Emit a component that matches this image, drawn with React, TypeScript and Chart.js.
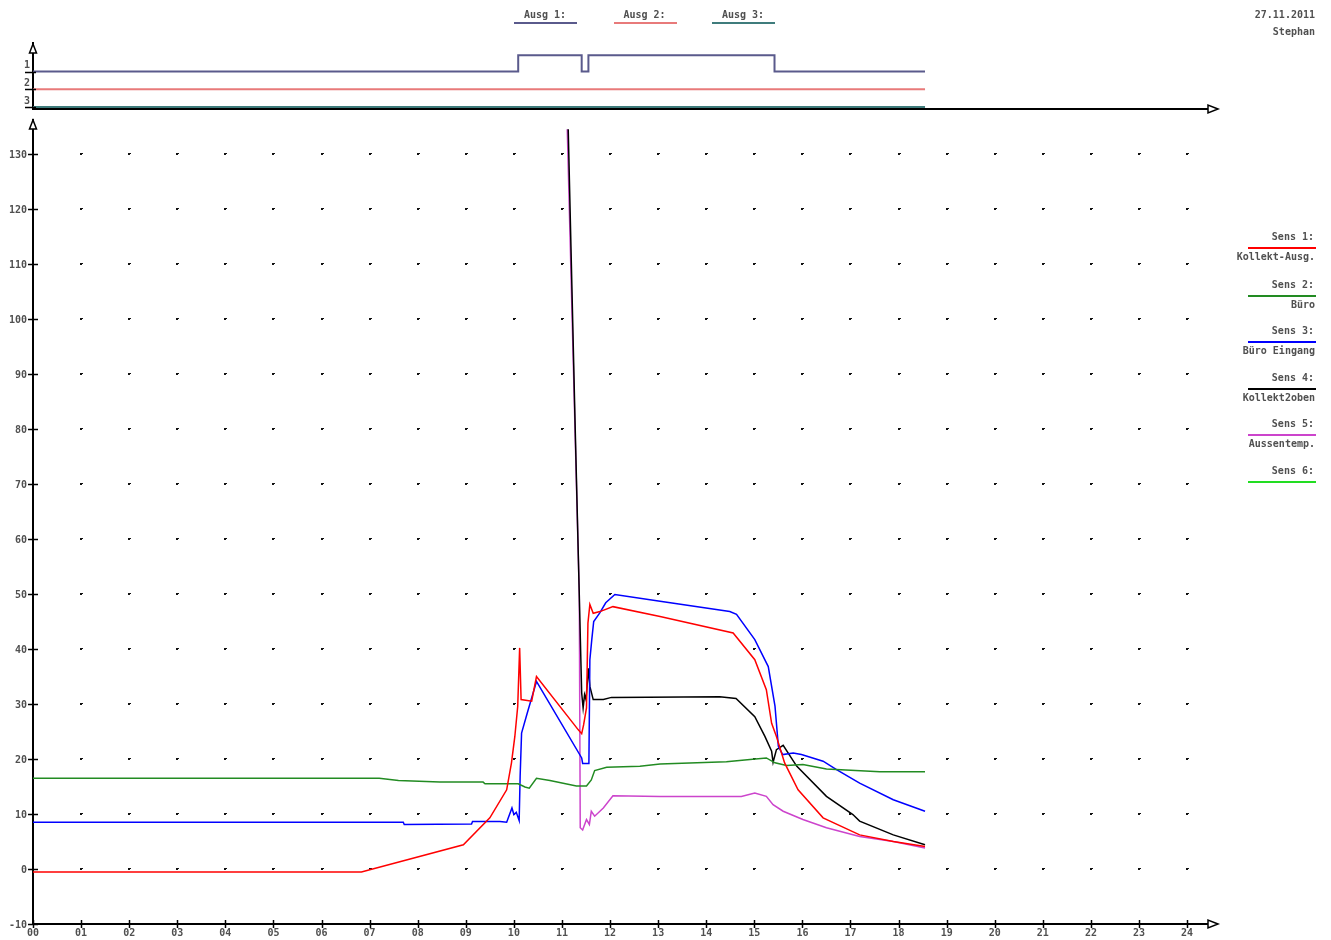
import React, { useEffect, useRef } from "react";
import { Chart, registerables } from "chart.js";

Chart.register(...registerables);

// ---------- data ----------
const hourTicks = [0,1,2,3,4,5,6,7,8,9,10,11,12,13,14,15,16,17,18,19,20,21,22,23,24];
const valueTicks = [-10,0,10,20,30,40,50,60,70,80,90,100,110,120,130];

// Sens 1: Kollekt-Ausg. (red)
const sens1Times = [0,6.83,8.95,9.5,9.85,9.95,10.02,10.08,10.12,10.15,10.37,10.47,11.34,11.41,11.45,11.51,11.54,11.58,11.65,11.79,12.06,13.04,14.56,15.01,15.25,15.36,15.46,15.63,15.91,16.43,17.19,17.89,18.55];
const sens1Values = [-0.55,-0.55,4.4,9.3,14.4,19.3,24.1,29.6,40.2,30.8,30.5,35,25.3,24.6,26.2,29.3,44.7,48.1,46.5,46.8,47.7,45.9,42.9,38.05,32.6,26.5,24.1,19.3,14.4,9.3,6.2,5.0,4.1];

// Sens 2: Büro (green)
const sens2Times = [0,7.2,7.6,8.46,9.36,9.4,10.09,10.23,10.32,10.47,10.75,11.3,11.51,11.61,11.68,11.93,12.62,13.04,14.42,14.91,15.25,15.43,15.67,16.01,16.5,17.61,18.55];
const sens2Values = [16.5,16.5,16.1,15.8,15.8,15.5,15.5,14.9,14.7,16.5,16.1,15.1,15.1,16.2,17.9,18.5,18.7,19.1,19.5,19.9,20.2,19.3,18.8,19.0,18.2,17.7,17.7];

// Sens 3: Büro Eingang (blue)
const sens3Times = [0,7.7,7.72,9.12,9.14,9.71,9.85,9.96,10.0,10.05,10.11,10.13,10.16,10.28,10.47,11.41,11.43,11.56,11.58,11.62,11.66,11.79,11.91,12.1,13.04,14.49,14.63,15.01,15.29,15.43,15.5,15.59,15.81,15.98,16.43,16.71,17.19,17.89,18.55];
const sens3Values = [8.5,8.5,8.1,8.2,8.65,8.65,8.5,11.1,9.9,10.3,8.8,16.8,24.7,28.4,34.1,20.2,19.2,19.2,38,41.7,45,46.6,48.4,49.9,48.7,46.8,46.3,41.7,36.8,29.6,22.3,20.8,21.1,20.8,19.6,18.05,15.6,12.6,10.5];

// Sens 4: Kollekt2oben (black)
const sens4Times = [11.13,11.27,11.41,11.44,11.47,11.5,11.55,11.58,11.65,11.86,12.03,14.28,14.62,15.01,15.22,15.36,15.39,15.46,15.6,15.88,16.5,17.05,17.19,17.89,18.55];
const sens4Values = [134.5,82,32,29.3,31.7,30.8,36.5,33.2,30.8,30.8,31.2,31.3,31,27.7,24.1,21.4,19.4,21.7,22.5,18.7,13.2,9.9,8.7,6.2,4.4];

// Sens 5: Aussentemp. (magenta)
const sens5Times = [11.11,11.36,11.38,11.43,11.51,11.57,11.61,11.68,11.86,12.06,13.04,14.73,15.01,15.25,15.39,15.6,16.01,16.5,17.19,17.89,18.55];
const sens5Values = [134.5,50,7.5,7.1,9.0,8.1,10.5,9.6,11.1,13.3,13.2,13.2,13.8,13.2,11.7,10.5,9.0,7.5,5.9,5.0,3.8];

// Sens 6: no data
const sens6Times: number[] = [];
const sens6Values: number[] = [];

const sensLabels = ["Sens 1:", "Sens 2:", "Sens 3:", "Sens 4:", "Sens 5:", "Sens 6:"];
const sensNames = ["Kollekt-Ausg.", "Büro", "Büro Eingang", "Kollekt2oben", "Aussentemp.", ""];
const sensColors = ["#ff0000", "#228b22", "#0000ff", "#000000", "#cc44cc", "#22dd22"];

// Outputs (Ausg): switching times and states (0 = off, 1 = on)
const ausg1Times = [0, 10.09, 11.41, 11.55, 15.42, 18.55];
const ausg1States = [0, 1, 0, 1, 0, 0];
const ausg2Times = [0, 18.55];
const ausg2States = [0, 0];
const ausg3Times = [0, 18.55];
const ausg3States = [0, 0];
const ausgLabels = ["Ausg 1:", "Ausg 2:", "Ausg 3:"];
const ausgColors = ["#5a5a8c", "#e87a7a", "#3f7c7c"];
const ausgLevels = [2, 1, 0];
const ausgTickValues = [0, 1, 2];
const ausgTickLabels = ["3", "2", "1"];

const dateText = "27.11.2011";
const userText = "Stephan";

// ---------- helpers ----------
const FONT = '"DejaVu Sans Mono", "Liberation Mono", monospace';
const TEXT_COLOR = "#505050";
const X_MAX = 24.58;
const ON_HEIGHT = 0.92;

const toPoints = (t: number[], v: number[]) => t.map((x, i) => ({ x, y: v[i] }));

function arrowUp(ctx: CanvasRenderingContext2D, x: number, tipY: number) {
  ctx.beginPath();
  ctx.moveTo(x, tipY);
  ctx.lineTo(x - 3.5, tipY + 9);
  ctx.lineTo(x + 3.5, tipY + 9);
  ctx.closePath();
  ctx.fillStyle = "#fff";
  ctx.fill();
  ctx.lineWidth = 1.5;
  ctx.strokeStyle = "#000";
  ctx.stroke();
}
function arrowRight(ctx: CanvasRenderingContext2D, tipX: number, y: number) {
  ctx.beginPath();
  ctx.moveTo(tipX, y);
  ctx.lineTo(tipX - 10, y - 4);
  ctx.lineTo(tipX - 10, y + 4);
  ctx.closePath();
  ctx.fillStyle = "#fff";
  ctx.fill();
  ctx.lineWidth = 1.5;
  ctx.strokeStyle = "#000";
  ctx.stroke();
}

const mainDecor = {
  id: "mainDecor",
  beforeDatasetsDraw(chart: any) {
    const { ctx, scales } = chart;
    const x = scales.x, y = scales.y;
    ctx.save();
    ctx.fillStyle = "#111";
    for (const h of hourTicks) {
      if (h === 0) continue;
      for (const v of valueTicks) {
        if (v === -10) continue;
        const px = Math.round(x.getPixelForValue(h));
        const py = Math.round(y.getPixelForValue(v));
        ctx.fillRect(px - 1, py - 1, 2, 2);
        ctx.fillRect(px - 1, py - 1, 3, 1);
      }
    }
    ctx.restore();
  },
  afterDraw(chart: any) {
    const { ctx, scales, chartArea } = chart;
    const x = scales.x, y = scales.y;
    ctx.save();
    ctx.strokeStyle = "#000";
    ctx.lineWidth = 1.5;
    for (const v of valueTicks) {
      const py = Math.round(y.getPixelForValue(v)) + 0.5;
      ctx.beginPath();
      ctx.moveTo(chartArea.left - 5, py);
      ctx.lineTo(chartArea.left + 5, py);
      ctx.stroke();
    }
    for (const h of hourTicks) {
      const px = Math.round(x.getPixelForValue(h)) + 0.5;
      ctx.beginPath();
      ctx.moveTo(px, chartArea.bottom - 4);
      ctx.lineTo(px, chartArea.bottom + 4);
      ctx.stroke();
    }
    arrowUp(ctx, chartArea.left, chartArea.top);
    arrowRight(ctx, chartArea.right + 3, chartArea.bottom);
    ctx.restore();
  },
};

const stripDecor = {
  id: "stripDecor",
  afterDraw(chart: any) {
    const { ctx, scales, chartArea } = chart;
    const y = scales.y;
    ctx.save();
    ctx.strokeStyle = "#000";
    ctx.lineWidth = 1.5;
    for (const v of ausgTickValues) {
      const py = Math.round(y.getPixelForValue(v)) + 0.5;
      ctx.beginPath();
      ctx.moveTo(chartArea.left - 8, py);
      ctx.lineTo(chartArea.left + 3, py);
      ctx.stroke();
    }
    arrowUp(ctx, chartArea.left, chartArea.top + 1);
    arrowRight(ctx, chartArea.right + 3, chartArea.bottom);
    ctx.restore();
  },
};

export default function App() {
  const mainRef = useRef<HTMLCanvasElement>(null);
  const stripRef = useRef<HTMLCanvasElement>(null);

  useEffect(() => {
    document.body.style.margin = "0";
    const tickFont = { family: FONT, size: 10, weight: "bold" as const };

    const sensTimes = [sens1Times, sens2Times, sens3Times, sens4Times, sens5Times, sens6Times];
    const sensValues = [sens1Values, sens2Values, sens3Values, sens4Values, sens5Values, sens6Values];

    const main = new Chart(mainRef.current!, {
      type: "line",
      data: {
        datasets: sensTimes.map((t, i) => ({
          label: sensLabels[i] + " " + sensNames[i],
          data: toPoints(t, sensValues[i]),
          borderColor: sensColors[i],
          backgroundColor: sensColors[i],
          borderWidth: 1.5,
          pointRadius: 0,
          tension: 0,
          fill: false,
        })),
      },
      options: {
        responsive: false,
        animation: false,
        events: [],
        layout: { padding: { left: 0, right: 116, top: 120, bottom: 0 } },
        plugins: { legend: { display: false }, tooltip: { enabled: false }, title: { display: false } },
        scales: {
          x: {
            type: "linear",
            min: 0,
            max: X_MAX,
            afterBuildTicks: (s: any) => { s.ticks = hourTicks.map((v) => ({ value: v })); },
            afterFit: (s: any) => { s.height = 16; },
            grid: { display: false, drawTicks: false },
            border: { display: true, color: "#000", width: 2 },
            ticks: {
              autoSkip: false,
              maxRotation: 0,
              padding: 3,
              font: tickFont,
              color: TEXT_COLOR,
              callback: (v: any) => String(v).padStart(2, "0"),
            },
          },
          y: {
            type: "linear",
            min: -10,
            max: 136.18,
            afterBuildTicks: (s: any) => { s.ticks = valueTicks.map((v) => ({ value: v })); },
            afterFit: (s: any) => { s.width = 33; },
            grid: { display: false, drawTicks: false },
            border: { display: true, color: "#000", width: 2 },
            ticks: {
              autoSkip: false,
              padding: 6,
              font: tickFont,
              color: TEXT_COLOR,
              labelOffset: 1,
            },
          },
        },
      },
      plugins: [mainDecor],
    } as any);

    const ausgTimes = [ausg1Times, ausg2Times, ausg3Times];
    const ausgStates = [ausg1States, ausg2States, ausg3States];

    const strip = new Chart(stripRef.current!, {
      type: "line",
      data: {
        datasets: ausgTimes.map((t, i) => ({
          label: ausgLabels[i],
          data: t.map((x, j) => ({ x, y: ausgLevels[i] + ausgStates[i][j] * ON_HEIGHT })),
          borderColor: ausgColors[i],
          backgroundColor: ausgColors[i],
          borderWidth: 2,
          pointRadius: 0,
          stepped: true,
          fill: false,
        })),
      },
      options: {
        responsive: false,
        animation: false,
        events: [],
        layout: { padding: { left: 0, right: 116, top: 43, bottom: 0 } },
        plugins: { legend: { display: false }, tooltip: { enabled: false } },
        scales: {
          x: {
            type: "linear",
            min: 0,
            max: X_MAX,
            afterFit: (s: any) => { s.height = 8; },
            grid: { display: false, drawTicks: false },
            border: { display: true, color: "#000", width: 2 },
            ticks: { display: false },
          },
          y: {
            type: "linear",
            min: -0.111,
            max: 3.611,
            afterBuildTicks: (s: any) => { s.ticks = ausgTickValues.map((v) => ({ value: v })); },
            afterFit: (s: any) => { s.width = 33; },
            grid: { display: false, drawTicks: false },
            border: { display: true, color: "#000", width: 2 },
            ticks: {
              autoSkip: false,
              padding: 3,
              labelOffset: -6,
              font: tickFont,
              color: TEXT_COLOR,
              callback: (v: any) => ausgTickLabels[ausgTickValues.indexOf(v)] ?? "",
            },
          },
        },
      },
      plugins: [stripDecor],
    } as any);

    return () => {
      main.destroy();
      strip.destroy();
    };
  }, []);

  const textStyle: React.CSSProperties = {
    position: "absolute",
    fontFamily: FONT,
    fontSize: 10,
    fontWeight: "bold",
    lineHeight: "12px",
    height: 12,
    color: TEXT_COLOR,
    whiteSpace: "pre",
  };

  const ausgCenters = [545, 644.5, 743];
  const sensTops = [237, 285, 331, 378, 424, 471];

  return (
    <div style={{ position: "absolute", left: 0, top: 0, width: 1331, height: 940, background: "#fff" }}>
      <canvas ref={mainRef} width={1331} height={940} style={{ position: "absolute", left: 0, top: 0, width: 1331, height: 940 }} />
      <canvas ref={stripRef} width={1331} height={118} style={{ position: "absolute", left: 0, top: 0, width: 1331, height: 118 }} />

      {ausgLabels.map((l, i) => (
        <React.Fragment key={l}>
          <div style={{ ...textStyle, left: ausgCenters[i] - 40, width: 80, top: 9, textAlign: "center" }}>{l}</div>
          <div style={{ position: "absolute", left: ausgCenters[i] - 31, width: 63, top: 22, height: 2, background: ausgColors[i] }} />
        </React.Fragment>
      ))}

      <div style={{ ...textStyle, left: 1200, width: 115, top: 9, textAlign: "right" }}>{dateText}</div>
      <div style={{ ...textStyle, left: 1200, width: 115, top: 26, textAlign: "right" }}>{userText}</div>

      {sensLabels.map((l, i) => (
        <React.Fragment key={l}>
          <div style={{ ...textStyle, left: 1200, width: 114, top: sensTops[i] - 6, textAlign: "right" }}>{l}</div>
          <div style={{ position: "absolute", left: 1248, width: 68, top: sensTops[i] + 10, height: 2, background: sensColors[i] }} />
          {sensNames[i] ? (
            <div style={{ ...textStyle, left: 1200, width: 115, top: sensTops[i] + 14, textAlign: "right" }}>{sensNames[i]}</div>
          ) : null}
        </React.Fragment>
      ))}
    </div>
  );
}
